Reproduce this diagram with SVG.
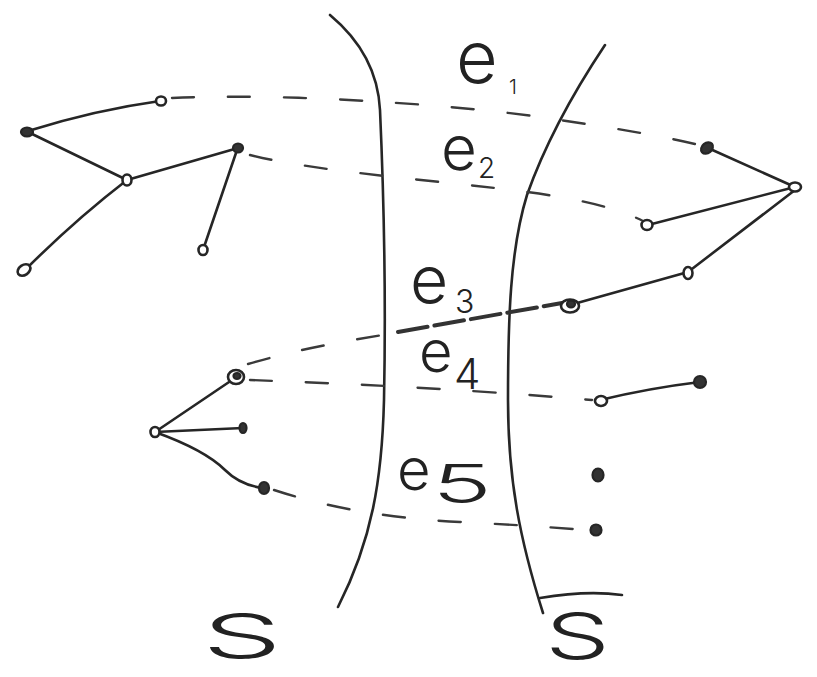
<svg xmlns="http://www.w3.org/2000/svg" width="817" height="677" viewBox="0 0 817 677">
<style>
.ln{fill:none;stroke:#262626;stroke-width:2.6;stroke-linecap:round;stroke-linejoin:round}
.ds{fill:none;stroke:#3a3a3a;stroke-width:2.4;stroke-linecap:round;stroke-dasharray:22 34}
.dk{fill:none;stroke:#333;stroke-width:4;stroke-linecap:round;stroke-dasharray:30 7}
.no{fill:#fff;stroke:#262626;stroke-width:2.6}
.nf{fill:#333;stroke:#262626;stroke-width:2.2}
.t{font-family:Inter,"Liberation Sans",Arial,sans-serif;font-weight:300;fill:#222}
</style>
<rect width="817" height="677" fill="#fff"/>
<g id="cut-curves">
<path class="ln" d="M330,15 C360,40 378,70 380,110 C384,200 386,300 384,400 C382,480 372,540 338,607"/>
<path class="ln" d="M605,45 C585,75 550,130 527,195 C510,250 508,320 508,400 C508,480 520,540 543,613"/>
<path class="ln" d="M540,598 C570,593 600,592 622,595"/>
</g>
<g id="connectors">
<path class="ln" d="M160,101 Q95,110 28,131"/>
<path class="ln" d="M28,132 L127,180"/>
<path class="ln" d="M127,180 L238,148"/>
<path class="ln" d="M127,180 Q75,220 25,270"/>
<path class="ln" d="M237,150 L203,250"/>
<path class="ln" d="M708,148 L795,187"/>
<path class="ln" d="M795,187 L648,225"/>
<path class="ln" d="M795,190 L688,272"/>
<path class="ln" d="M688,272 L570,305"/>
<path class="ln" d="M155,432 L235,378"/>
<path class="ln" d="M155,432 L243,428"/>
<path class="ln" d="M155,432 Q205,450 225,470 Q240,485 263,488"/>
<path class="ln" d="M600,400 Q650,388 700,382"/>
<path class="ds" d="M172,98 C300,92 480,108 540,117 C600,126 660,135 703,146"/>
<path class="ds" d="M250,155 C330,175 480,183 560,197 C600,204 625,212 643,221"/>
<path class="ds" d="M248,364 C290,352 320,345 395,333"/>
<path class="dk" d="M398,332 L562,303"/>
<path class="ds" d="M250,380 C350,384 450,388 592,400"/>
<path class="ds" d="M274,490 C320,505 380,518 460,522 C520,525 560,528 586,530"/>
</g>
<g id="node-A"><ellipse class="no" cx="161" cy="101" rx="5" ry="4.5"/></g>
<g id="node-B"><ellipse class="nf" cx="27" cy="132" rx="6" ry="4.5"/></g>
<g id="node-C"><ellipse class="no" cx="127" cy="180" rx="4.5" ry="5.5"/></g>
<g id="node-D"><ellipse class="nf" cx="238" cy="148" rx="5" ry="4.5"/></g>
<g id="node-E"><ellipse class="no" cx="24" cy="270" rx="7" ry="5" transform="rotate(-35 24 270)"/></g>
<g id="node-F"><ellipse class="no" cx="203" cy="250" rx="4.5" ry="5"/></g>
<g id="node-G"><ellipse class="nf" cx="707" cy="148" rx="6.5" ry="5" transform="rotate(-40 707 148)"/></g>
<g id="node-H"><ellipse class="no" cx="795" cy="187" rx="6" ry="4.5"/></g>
<g id="node-I"><ellipse class="no" cx="647" cy="225" rx="5.5" ry="5"/></g>
<g id="node-J"><ellipse class="no" cx="688" cy="273" rx="4.5" ry="6"/></g>
<g id="node-K"><ellipse class="no" cx="570" cy="306" rx="9" ry="6.5"/><ellipse class="nf" cx="571" cy="304" rx="4" ry="3.5"/></g>
<g id="node-L"><ellipse class="no" cx="236" cy="377" rx="8" ry="7"/><ellipse class="nf" cx="237" cy="376" rx="3.5" ry="3"/></g>
<g id="node-M"><ellipse class="no" cx="155" cy="432" rx="4.5" ry="5"/></g>
<g id="node-N"><ellipse class="nf" cx="243" cy="428" rx="3.5" ry="5"/></g>
<g id="node-O"><ellipse class="nf" cx="264" cy="488" rx="5" ry="6"/></g>
<g id="node-P"><ellipse class="no" cx="601" cy="401" rx="6" ry="5"/></g>
<g id="node-Q"><ellipse class="nf" cx="700" cy="382" rx="6" ry="6"/></g>
<g id="node-R"><ellipse class="nf" cx="598" cy="475" rx="5.5" ry="6.5"/></g>
<g id="node-T"><ellipse class="nf" cx="596" cy="530" rx="5.5" ry="5.5"/></g>
<g id="labels">
<text class="t" x="456" y="83" font-size="72">e</text>
<text class="t" x="509" y="94" font-size="20">1</text>
<text class="t" x="441" y="170" font-size="62">e</text>
<text class="t" x="478" y="178" font-size="28">2</text>
<text class="t" x="410" y="303" font-size="66">e</text>
<text class="t" x="455" y="313" font-size="32">3</text>
<text class="t" x="419" y="372" font-size="58">e</text>
<text class="t" x="454" y="389" font-size="42">4</text>
<text class="t" x="397" y="490" font-size="58">e</text>
<text class="t" x="432" y="503" font-size="54" textLength="60" lengthAdjust="spacingAndGlyphs">5</text>
<text class="t" x="202" y="658" font-size="62" textLength="80" lengthAdjust="spacingAndGlyphs">S</text>
<text class="t" x="545" y="659" font-size="64" textLength="65" lengthAdjust="spacingAndGlyphs">S</text>
</g>
</svg>
